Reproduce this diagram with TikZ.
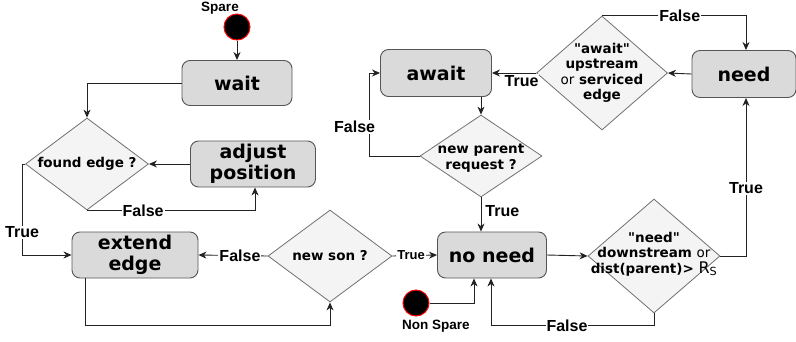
\documentclass[tikz,border=0pt]{standalone}
\usepackage{fontspec}
\setmainfont{DejaVu Sans}
\newfontfamily\lblfont{Liberation Sans}
\newfontfamily\qfont{DejaVu Sans}
\usetikzlibrary{shapes.geometric,arrows.meta}

\definecolor{boxfill}{HTML}{DADADA}
\definecolor{boxline}{HTML}{555555}
\definecolor{dfill}{HTML}{F4F4F4}
\definecolor{dline}{HTML}{707070}
\definecolor{wireclr}{HTML}{222222}

% straight double quote (the main font turns " into a curly one)
\newcommand{\dq}{{\qfont"}}

\tikzset{
  state/.style={draw=boxline, fill=boxfill, rounded corners=8pt, line width=0.9pt,
    font=\bfseries\fontsize{19}{21}\selectfont, align=center, inner sep=0pt},
  decision/.style={diamond, draw=dline, fill=dfill, line width=0.8pt, inner sep=0pt},
  dtext/.style={font=\bfseries\fontsize{13.5}{15.5}\selectfont, align=center, inner sep=0pt},
  startdot/.style={circle, fill=black, draw=red, line width=1pt, minimum size=26pt, inner sep=0pt},
  flow/.style={draw=wireclr, line width=0.9pt, -{Stealth[length=8pt,width=7pt,inset=2.5pt]}},
  lbl/.style={font=\lblfont\bfseries\fontsize{16}{18}\selectfont, fill=white, inner sep=1pt},
  smalllbl/.style={font=\lblfont\bfseries\fontsize{13}{15}\selectfont, fill=white, inner sep=1pt},
  caption/.style={font=\lblfont\bfseries\fontsize{13.5}{15}\selectfont, inner sep=0pt}
}

\begin{document}
\begin{tikzpicture}[x=1pt,y=-1pt]
\useasboundingbox (0,0) rectangle (796,341);

% start points
\node[startdot] (spare) at (237,27) {};
\node[caption] (sparetxt) at (220,8) {Spare};
\node[startdot] (nonspare) at (416,303) {};
\node[caption] (nonsparetxt) at (436,326) {Non Spare};

% states
\node[state, minimum width=110pt, minimum height=45pt] (wait) at (237,83) {wait};
\node[state, minimum width=125pt, minimum height=46pt] (adjust) at (253,164) {adjust\\position};
\node[state, minimum width=126pt, minimum height=46pt] (extend) at (135,255) {extend\\edge};
\node[state, minimum width=109pt, minimum height=46pt] (noneed) at (492,255) {no need};
\node[state, minimum width=111pt, minimum height=47pt] (await) at (436,73) {await};
\node[state, minimum width=104pt, minimum height=47pt] (need) at (744,74) {need};

% decisions: the diamond outline, then its question on top
\node[decision, minimum width=123pt, minimum height=92pt] (found) at (87,164) {};
\node[dtext] (foundtxt) at (found) {found edge ?};
\node[decision, minimum width=124pt, minimum height=92pt] (newson) at (330,256) {};
\node[dtext] (newsontxt) at (newson) {new son ?};
\node[decision, minimum width=122pt, minimum height=82pt] (newparent) at (481,156) {};
\node[dtext] (newparenttxt) at ([yshift=-2pt]newparent.center) {new parent\\request ?};
\node[decision, minimum width=131pt, minimum height=114pt] (awaitd) at (602,73) {};
\node[dtext] (awaitdtxt) at (awaitd)
  {\dq await\dq\\upstream\\{\mdseries or} serviced\\edge};
\node[decision, minimum width=132pt, minimum height=114pt] (needd) at (654,256) {};
\node[dtext] (needdtxt) at ([yshift=2pt]needd.center)
  {\dq need\dq\\downstream {\mdseries or}\\dist(parent)> {\mdseries\fontsize{16}{16}\selectfont R\textsubscript{S}}};

% connectors
\draw[flow] (spare) -- (wait);
\draw[flow] (wait.west) -| (found.north);
\draw[flow] (adjust.west) -- (found.east);
\draw[flow] (found.south) -| node[lbl, pos=0.167] {False} ([xshift=2pt]adjust.south);
\draw[flow] (found.west) -- ++(-3,0) |- node[lbl, pos=0.375] {True} (extend.west);
\draw[flow] (newson.west) -- node[lbl, pos=0.4] {False} (extend.east);
\draw[flow] ([xshift=-50pt]extend.south) -- ++(0,47) -| (newson.south);
\draw[flow] (newson.east) -- node[smalllbl, pos=0.42] {True} (noneed.west);
\draw[flow] (nonspare.east) -| ([xshift=-18pt]noneed.south);
\draw[flow] (noneed.east) -- (needd.west);
\draw[flow] (needd.south) -- ++(0,12) -| node[lbl, pos=0.267] {False} ([xshift=-1pt]noneed.south);
\draw[flow] (needd.east) -| node[lbl, pos=0.714] {True} ([xshift=2pt]need.south);
\draw[flow] (need.west) -- (awaitd.east);
\draw[flow] (awaitd.north) -| node[lbl, pos=0.27] {False} ([xshift=2pt]need.north);
\draw[flow] (awaitd.west) -- node[lbl, below, pos=0.33, yshift=-1pt] {True} (await.east);
\draw[flow] (await.south -| newparent.north) -- (newparent.north);
\draw[flow] (newparent.west) -- ++(-50,0) |- node[lbl, pos=0.175, xshift=-15pt] {False} (await.west);
\draw[flow] (newparent.south) -- node[lbl, right, pos=0.4, fill=none, xshift=3pt] {True} (newparent.south |- noneed.north);

\end{tikzpicture}
\end{document}
